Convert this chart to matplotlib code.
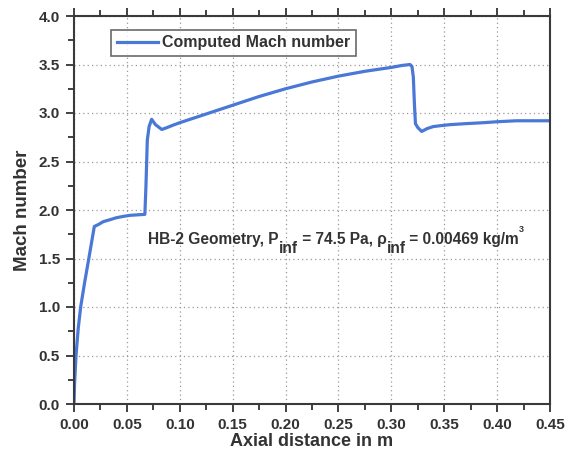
import numpy as np
import matplotlib
matplotlib.use("Agg")
import matplotlib.pyplot as plt
from matplotlib.ticker import MultipleLocator, FormatStrFormatter

plt.rcParams['font.family'] = ['Liberation Sans', 'DejaVu Sans']
plt.rcParams['font.weight'] = 'bold'

## data
x_dist = [0.0, 0.0005, 0.0019, 0.0040, 0.0063, 0.0100, 0.0140, 0.0192,
          0.0230, 0.0277, 0.0340, 0.0400, 0.0470, 0.0530, 0.0600, 0.0670,
          0.0680, 0.0693, 0.0710, 0.0734, 0.0770, 0.0830, 0.0880, 0.0940,
          0.1000, 0.1250, 0.1500, 0.1750, 0.2000, 0.2250, 0.2500, 0.2750,
          0.3000, 0.3100, 0.3176, 0.3195, 0.3208, 0.3218,
          0.3228, 0.3250, 0.3287, 0.3340, 0.3397, 0.3470, 0.3555, 0.3700,
          0.3870, 0.4000, 0.4185, 0.4350, 0.4500]
mach = [0.0, 0.20, 0.50, 0.78, 1.00, 1.25, 1.50, 1.83,
        1.85, 1.88, 1.90, 1.92, 1.935, 1.945, 1.95, 1.955,
        2.24, 2.72, 2.86, 2.935, 2.88, 2.83, 2.85, 2.876,
        2.90, 2.99, 3.08, 3.17, 3.25, 3.32, 3.38, 3.43,
        3.47, 3.49, 3.50, 3.48, 3.37, 3.10,
        2.89, 2.85, 2.81, 2.84, 2.86, 2.87, 2.88, 2.89,
        2.90, 2.91, 2.92, 2.92, 2.92]

# annotation pieces: (text, size, vertical offset in points from previous piece)
note_parts = [("HB-2 Geometry, P", 11.2, 0), ("inf", 11.2, -7),
              (" = 74.5 Pa, ρ", 11.2, 7), ("inf", 11.2, -7),
              (" = 0.00469 kg/m", 11.2, 7), ("3", 6.5, 9)]

fig = plt.figure(figsize=(5.79, 4.57), dpi=100)
ax = fig.add_axes([74/579, 1-404/457, 476/579, 388/457])

ax.plot(x_dist, mach, color="#4a78d6", lw=2.3, label="Computed Mach number")

ax.set_xlim(0, 0.45)
ax.set_ylim(0, 4.0)
ax.xaxis.set_major_locator(MultipleLocator(0.05))
ax.xaxis.set_minor_locator(MultipleLocator(0.025))
ax.yaxis.set_major_locator(MultipleLocator(0.5))
ax.yaxis.set_minor_locator(MultipleLocator(0.25))
ax.xaxis.set_major_formatter(FormatStrFormatter("%.2f"))
ax.yaxis.set_major_formatter(FormatStrFormatter("%.1f"))

ax.tick_params(which="both", direction="out", top=True, right=False,
               color="#333333", width=1.3)
ax.tick_params(which="major", length=6, labelsize=11, labelcolor="#333333", pad=4)
ax.tick_params(which="minor", length=4)
for s in ax.spines.values():
    s.set_linewidth(1.5)
    s.set_color("#3a3a3a")

ax.grid(True, which="major", linestyle=(0, (1, 2.5)), color="#999999", lw=0.9)

ax.set_xlabel("Axial distance in m", fontsize=13, fontweight="bold",
              color="#333333", labelpad=1)
ax.set_ylabel("Mach number", fontsize=13.5, fontweight="bold",
              color="#333333", labelpad=6)

leg = ax.legend(loc="upper left", bbox_to_anchor=(0.078, 0.965),
                prop={"size": 11.5, "weight": "bold"},
                frameon=True, fancybox=False, handlelength=2.6,
                borderpad=0.35, handletextpad=0.25, borderaxespad=0)
leg.get_frame().set_edgecolor("#444444")
leg.get_frame().set_linewidth(1.2)
for t in leg.get_texts():
    t.set_color("#333333")

## annotation built from pieces so the subscripts keep full size
prev = ax.text(0.07, 1.653, note_parts[0][0], fontsize=note_parts[0][1],
               fontweight="bold", color="#333333", va="baseline")
for txt, size, dy in note_parts[1:]:
    prev = ax.annotate(txt, xy=(1, 0), xycoords=prev, xytext=(0, dy),
                       textcoords="offset points", fontsize=size,
                       fontweight="bold", color="#333333", va="bottom", ha="left")

fig.savefig("out.png", dpi=100)
